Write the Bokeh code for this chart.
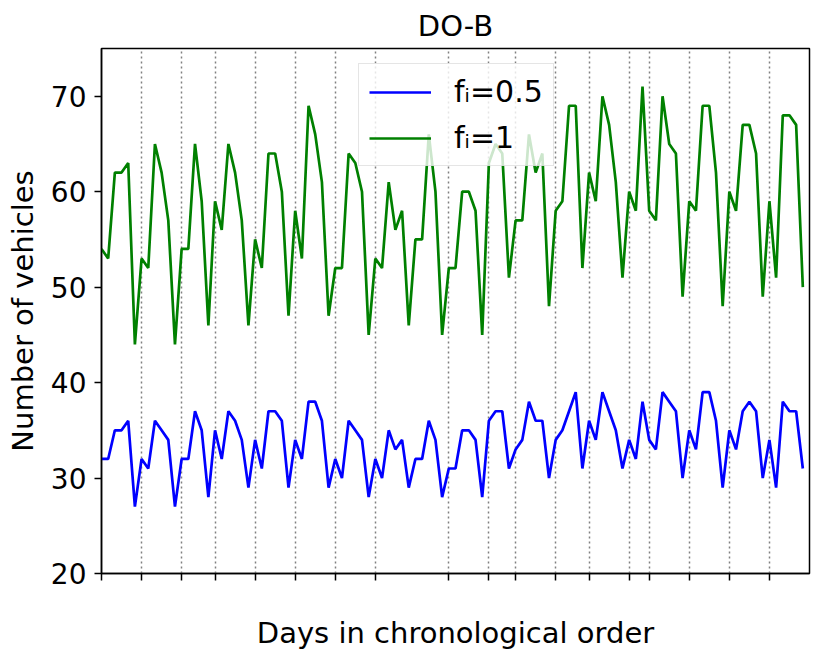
from bokeh.plotting import figure
from bokeh.models import Range1d, FixedTicker, Legend, LegendItem
from bokeh.embed import file_html
from bokeh.resources import INLINE

days = list(range(106))

fi_1 = [54, 53, 62, 62, 63, 44, 53, 52, 65, 62, 57, 44, 54, 54, 65, 59, 46, 59, 56, 65,
        62, 57, 46, 55, 52, 64, 64, 60, 47, 58, 53, 69, 66, 61, 47, 52,
        52, 64, 63, 60, 45, 53, 52, 61, 56, 58, 46, 55, 55, 66, 60, 45, 52, 52, 60, 60,
        58, 45, 63, 65, 64, 51, 57, 57, 66, 62, 64, 48, 58,
        59, 69, 69, 52, 62, 59, 70, 67, 61, 51, 60, 58, 71, 58, 57, 70, 65, 64, 49, 59,
        58, 69, 69, 62, 48, 60, 58, 67, 67, 64, 49, 59, 51, 68, 68, 67, 50]

fi_05 = [32, 32, 35, 35, 36, 27, 32, 31, 36, 35, 34, 27, 32, 32, 37, 35, 28, 35, 32, 37,
         36, 34, 29, 34, 31, 37, 37, 36, 29, 34, 32, 38, 38, 36, 29, 32,
         30, 36, 35, 34, 28, 32, 30, 35, 33, 34, 29, 32, 32, 36, 34, 28, 31, 31, 35, 35,
         34, 28, 36, 37, 37, 31, 33, 34, 38, 36, 36, 30, 34,
         35, 37, 39, 31, 36, 34, 39, 37, 35, 31, 34, 32, 38, 34, 33, 39, 38, 37, 30, 35,
         33, 39, 39, 36, 29, 35, 33, 37, 38, 37, 30, 34, 29, 38, 37, 37, 31]

week_ticks = [0, 6, 12, 17, 23, 29, 35, 41, 52, 58, 62, 68, 73, 79, 82, 88, 94, 100]
y_ticks = [20, 30, 40, 50, 60, 70]

FONT = "DejaVu Sans"

p = figure(width=814, height=652, output_backend="svg", toolbar_location=None,
           x_range=Range1d(0, 106), y_range=Range1d(20, 75),
           min_border_left=101, min_border_right=5, min_border_top=45,
           min_border_bottom=0, title="DO-B")

p.title.align = "center"
p.title.text_font = FONT
p.title.text_font_size = "29px"
p.title.text_font_style = "normal"
p.title.text_color = "black"
p.title.standoff = 12

r_blue = p.line(days, fi_05, line_color="#0000ff", line_width=2.7)
r_green = p.line(days, fi_1, line_color="#008000", line_width=2.7)

p.xaxis.ticker = FixedTicker(ticks=week_ticks)
p.xaxis.major_label_overrides = {t: "" for t in week_ticks}
p.yaxis.ticker = FixedTicker(ticks=y_ticks)

p.xgrid.grid_line_color = "#808080"
p.xgrid.grid_line_dash = "2 3"
p.xgrid.grid_line_width = 1.5
p.ygrid.visible = False

for ax in (p.xaxis, p.yaxis):
    ax.axis_line_color = "black"
    ax.axis_line_width = 1.5
    ax.major_tick_line_color = "black"
    ax.major_tick_line_width = 1.5
    ax.major_tick_out = 7
    ax.major_tick_in = 0
    ax.minor_tick_line_color = None
    ax.major_label_text_font = FONT
    ax.major_label_text_font_size = "28px"
    ax.major_label_text_color = "black"
    ax.axis_label_text_font = FONT
    ax.axis_label_text_font_size = "29px"
    ax.axis_label_text_font_style = "normal"
    ax.axis_label_text_color = "black"

p.xaxis.axis_label = "Days in chronological order"
p.xaxis.axis_label_standoff = 35
p.yaxis.axis_label = "Number of vehicles"
p.yaxis.major_label_standoff = 8
p.yaxis.axis_label_standoff = 8

p.outline_line_color = "black"
p.outline_line_width = 1.5
p.outline_line_alpha = 1.0

legend = Legend(items=[LegendItem(label="fᵢ=0.5", renderers=[r_blue]),
                       LegendItem(label="fᵢ=1", renderers=[r_green])],
                location=(257, 407))
legend.label_text_font = FONT
legend.label_text_font_size = "30px"
legend.label_text_color = "black"
legend.glyph_width = 62
legend.glyph_height = 34
legend.label_height = 34
legend.label_standoff = 23
legend.padding = 10
legend.spacing = 11
legend.margin = 0
legend.border_line_color = "#cccccc"
legend.border_line_width = 1.5
legend.background_fill_color = "white"
legend.background_fill_alpha = 0.8
p.add_layout(legend)

open("out.html", "w").write(file_html(p, INLINE))
